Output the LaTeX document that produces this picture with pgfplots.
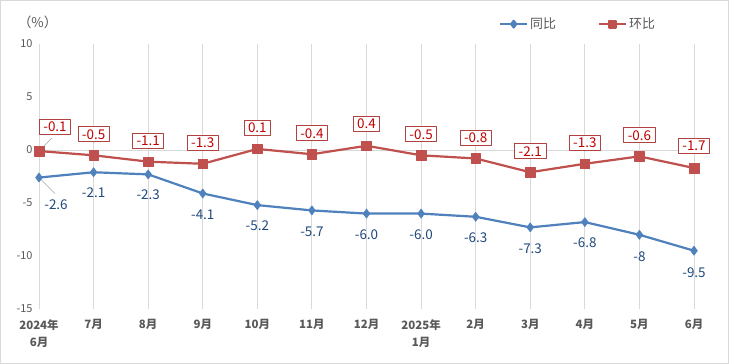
\documentclass[border=0pt]{standalone}
\usepackage{pgfplots}
\pgfplotsset{compat=1.18}
\usepackage{pgfplotstable}
\usepackage{fontspec}
\setmainfont{Noto Sans CJK SC}
\definecolor{cblue}{HTML}{4F81BD}
\definecolor{cred}{HTML}{C0504D}
\definecolor{lblue}{HTML}{1F497D}
\definecolor{lred}{HTML}{C00000}
\definecolor{bred}{HTML}{B0433F}
\definecolor{tgray}{HTML}{595959}
\definecolor{ggray}{HTML}{D9D9D9}

\pgfplotstableread{
x y lab dx dy
0 -2.6 -2.6 17 -27
1 -2.1 -2.1 0 -20
2 -2.3 -2.3 0 -20
3 -4.1 -4.1 0 -21
4 -5.2 -5.2 0 -21
5 -5.7 -5.7 0 -21
6 -6.0 -6.0 0 -21
7 -6.0 -6.0 0 -21
8 -6.3 -6.3 0 -21
9 -7.3 -7.3 0 -21
10 -6.8 -6.8 0 -21
11 -8 -8 0 -22
12 -9.5 -9.5 0 -22
}\tongbi

\pgfplotstableread{
x y lab dx dy
0 -0.1 -0.1 16 24
1 -0.5 -0.5 0 21
2 -1.1 -1.1 0 21
3 -1.3 -1.3 0 21
4 0.1 0.1 0 21
5 -0.4 -0.4 0 21
6 0.4 0.4 0 22
7 -0.5 -0.5 0 21
8 -0.8 -0.8 0 21
9 -2.1 -2.1 0 21
10 -1.3 -1.3 0 21
11 -0.6 -0.6 0 21
12 -1.7 -1.7 0 22
}\huanbi

\begin{document}
\begin{tikzpicture}
\draw[ggray, fill=white, line width=1bp] (0.5bp,0.5bp) rectangle (728.5bp,363.5bp);
\begin{axis}[
  at={(39bp,55bp)}, anchor=south west,
  scale only axis, width=655bp, height=265bp,
  xmin=0, xmax=12, ymin=-15, ymax=10,
  clip=false,
  axis line style={draw=none},
  major tick length=0pt,
  xtick={0,...,12},
  xticklabels={{2024年\\6月},7月,8月,9月,10月,11月,12月,{2025年\\1月},2月,3月,4月,5月,6月},
  xticklabel style={font=\bfseries\fontsize{11.5}{17}\selectfont, text=tgray, align=center, anchor=north, yshift=-7pt},
  ytick={-15,-10,-5,0,5,10},
  yticklabels={-15,-10,-5,0,5,10},
  yticklabel style={font=\fontsize{11}{12}\selectfont, text=tgray, anchor=east, xshift=-3pt},
  xmajorgrids,
  major x grid style={ggray, line width=0.9bp},
  extra y ticks={0},
  extra y tick labels={},
  extra y tick style={ymajorgrids=true, major y grid style={ggray, line width=0.9bp}},
  legend columns=2,
  legend style={at={(0.823,1.075)}, anchor=center, draw=none, fill=none,
    font=\fontsize{13}{15}\selectfont, text=tgray,
    /tikz/every even column/.append style={column sep=40pt}},
  legend image code/.code={\draw[mark repeat=2,mark phase=2,#1] plot coordinates {(0pt,0pt) (13.5pt,0pt) (27pt,0pt)};},
  legend image post style={mark options={scale=0.72}},
]
\draw[gray!70, line width=0.6bp] (axis cs:0,-0.1) -- ++(13bp,13bp);
\draw[gray!70, line width=0.6bp] (axis cs:0,-2.6) -- ++(16bp,-16bp);

\addplot[cblue, line width=2.2bp, line join=round, mark=diamond*, mark size=4.6bp, mark options={fill=cblue, line width=0.5bp},
  nodes near coords, point meta=explicit symbolic,
  visualization depends on={\thisrow{dx}\as\dx},
  visualization depends on={\thisrow{dy}\as\dy},
  every node near coord/.append style={anchor=center, xshift=\dx bp, yshift=\dy bp, text=lblue, font=\fontsize{13.5}{15}\selectfont}]
  table[x=x,y=y,meta=lab]{\tongbi};
\addlegendentry{同比}

\addplot[cred, line width=2.2bp, line join=round, mark=square*, mark size=4.8bp, mark options={fill=cred, line width=0.5bp},
  nodes near coords, point meta=explicit symbolic,
  visualization depends on={\thisrow{dx}\as\dx},
  visualization depends on={\thisrow{dy}\as\dy},
  every node near coord/.append style={anchor=center, xshift=\dx bp, yshift=\dy bp, text=lred, font=\fontsize{13.5}{15}\selectfont,
    draw=bred, line width=0.8bp, fill=white, inner xsep=4pt, inner ysep=2.5pt}]
  table[x=x,y=y,meta=lab]{\huanbi};
\addlegendentry{环比}

\node[text=tgray, font=\fontsize{13.5}{15}\selectfont] at (rel axis cs:-0.002,1.083) {（\%）};
\end{axis}
\end{tikzpicture}
\end{document}
